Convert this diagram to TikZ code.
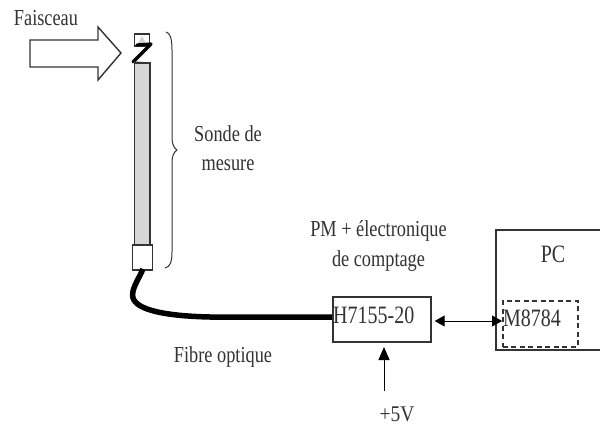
\documentclass[tikz,border=0pt]{standalone}
\usepackage{fontspec}
\setmainfont{Liberation Serif}
\usetikzlibrary{arrows.meta}
\definecolor{ink}{gray}{0.2}
\definecolor{txt}{gray}{0.2}
\tikzset{
 lbl/.style={text=txt,font=\fontsize{18.3}{23.6}\selectfont,inner sep=0pt,align=center,yscale=1.25,transform shape},
 lblb/.style={text=txt,font=\fontsize{20}{22}\selectfont,inner sep=0pt,anchor=west,yscale=1.25,transform shape},
 ln/.style={draw=ink,line width=1.4pt},
 boxn/.style={draw=ink,line width=1.7pt,inner sep=0pt,minimum width=#1,anchor=north west},
 tip/.style={-{Triangle[length=13pt,width=11pt]}}
}
\begin{document}
\begin{tikzpicture}[x=1pt,y=-1pt]
\useasboundingbox (0,0) rectangle (600,428);
\fill[white] (0,0) rectangle (600,428);
% labels
\node[lbl] (fa) at (46,18) {Faisceau};
\node[lbl] (so) at (228,148) {Sonde de\\mesure};
\node[lbl] (pm) at (378.5,246) {PM + électronique\\de comptage};
\node[lbl] (fi) at (223,357) {Fibre optique};
\node[lbl,font=\fontsize{20}{24}\selectfont] (pc) at (553,254) {PC};
\node[text=txt,font=\fontsize{19.5}{20}\selectfont,inner sep=0pt,yscale=1.15,transform shape] (v5) at (397,414) {+5V};
% beam arrow
\draw[ln,fill=white] (30,40) -- (98,40) -- (98,27) -- (121,53) -- (98,80) -- (98,67) -- (30,67) -- cycle;
% probe
\draw[draw=ink,line width=1.2pt,fill=white] (134.5,34) rectangle (149.5,46);
\fill[gray!35] (137,45) -- (142,36) -- (147,45) -- cycle;
\fill[gray!32,draw=ink,line width=1.3pt] (134.5,63) rectangle (150,245);
\draw[black,line width=3.2pt,line cap=round,line join=round] (137,45) -- (151,44) -- (133,62);
\draw[ink,line width=1.3pt] (133,62) -- (148,63);
\node[draw=ink,line width=1.3pt,fill=white,minimum width=20pt,minimum height=25pt,inner sep=0pt] (sq) at (142.5,257.5) {};
% brace
\draw[ink,line width=1pt] (166,32) .. controls (170,33) and (172,38) .. (172,50) -- (172,138) .. controls (172,144) and (174,148) .. (177,150) .. controls (174,152) and (172,156) .. (172,162) -- (172,252) .. controls (172,262) and (170,267) .. (165,268);
% H box
\node[boxn=98pt,minimum height=45pt] (h) at (332,296) {};
\node[lblb] (ht) at (333,315) {H7155-20};
% cable
\draw[black,line width=5.5pt] (143,269) .. controls (137,282) and (131,290) .. (133,298) .. controls (137,310) and (165,316) .. (210,317) -- (h.west |- 0,317);
% PC
\draw[ink,line width=1.7pt] (601,230) -- (496,230) -- (496,350) -- (601,350);
\node[draw=ink,dash pattern=on 5pt off 3.5pt,line width=1.5pt,inner sep=0pt,minimum width=75pt,minimum height=46pt,anchor=north west] (m) at (502,300) {};
\node[lblb] (mt) at (503,318) {M8784};
% connectors
\draw[black,line width=1pt,{Triangle[length=10pt,width=11pt]}-{Triangle[length=10pt,width=11pt]}] ([xshift=3pt]h.east |- 0,321) -- (m.west |- 0,321);
\coordinate (src) at (384,391);
\draw[black,line width=1pt,tip] (src) -- (384,347);
\end{tikzpicture}
\end{document}
